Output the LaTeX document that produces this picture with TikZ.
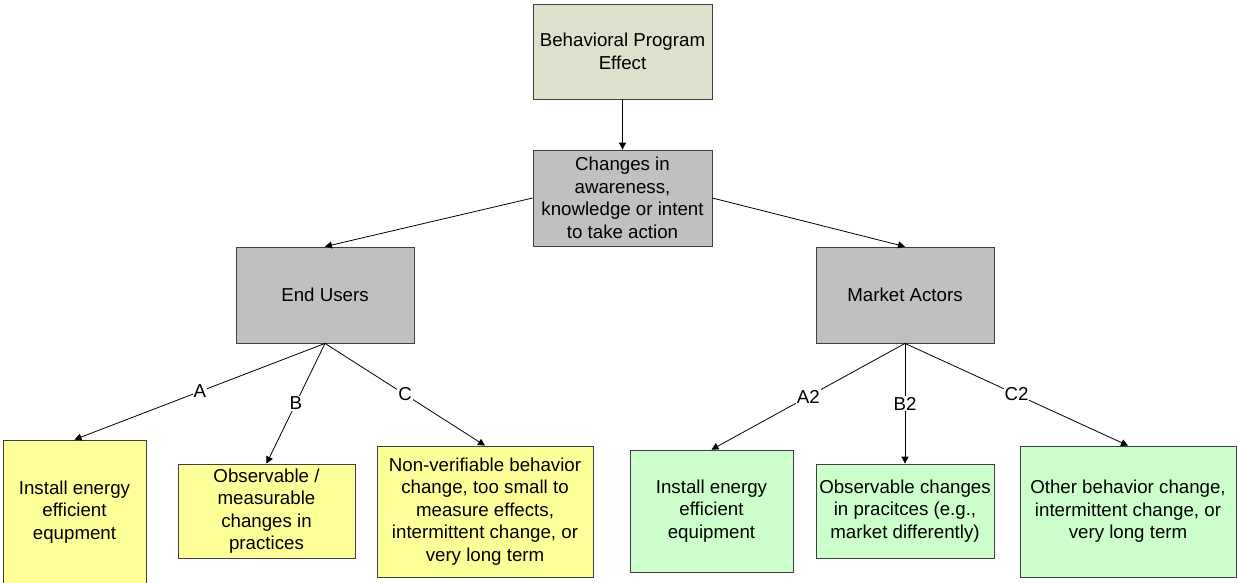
\documentclass[tikz,border=0pt]{standalone}
\usepackage{fontspec}
\setmainfont{Liberation Sans}
\usetikzlibrary{arrows.meta}
\definecolor{tanfill}{HTML}{DDE0CB}
\definecolor{grayfill}{HTML}{C0C0C0}
\definecolor{yellowfill}{HTML}{FFFF99}
\definecolor{greenfill}{HTML}{CCFFCC}
\begin{document}
\begin{tikzpicture}[x=1pt,y=-1pt,
  box/.style={draw=black!75, line width=0.8pt, inner sep=0pt, align=center,
    font=\fontsize{18.7}{22.5}\selectfont},
  tanbox/.style={box, fill=tanfill},
  graybox/.style={box, fill=grayfill},
  yellowbox/.style={box, fill=yellowfill},
  greenbox/.style={box, fill=greenfill},
  link/.style={draw=black, line width=0.8pt, -{Triangle[length=7pt,width=7pt]}},
  tag/.style={fill=white, inner sep=1pt, font=\fontsize{18.7}{22.5}\selectfont}]
\useasboundingbox (0,0) rectangle (1238,582);
\fill[white] (0,0) rectangle (1238,582);

% top of the hierarchy
\node[tanbox, minimum width=179pt, minimum height=95pt] (effect) at (622.5,51.5)
  {Behavioral Program\\Effect};
\node[graybox, minimum width=179pt, minimum height=96pt] (changes) at (622.5,198)
  {Changes in\\awareness,\\knowledge or intent\\to take action};
\node[graybox, minimum width=178pt, minimum height=96pt] (users) at (325,295) {End Users};
\node[graybox, minimum width=178pt, minimum height=96pt] (actors) at (905,295) {Market Actors};

% end-user outcomes
\node[yellowbox, minimum width=143pt, minimum height=143.5pt] (y1) at (74.5,511.75)
  {Install energy\\efficient\\equpment};
\node[yellowbox, minimum width=177pt, minimum height=94pt] (y2) at (266.5,511)
  {Observable /\\measurable\\changes in\\practices};
\node[yellowbox, minimum width=216pt, minimum height=131pt] (y3) at (485,511.5)
  {Non-verifiable behavior\\change, too small to\\measure effects,\\intermittent change, or\\very long term};

% market-actor outcomes
\node[greenbox, minimum width=163pt, minimum height=122pt] (g1) at (711.5,511)
  {Install energy\\efficient\\equipment};
\node[greenbox, minimum width=178pt, minimum height=94pt] (g2) at (905,511)
  {Observable changes\\in pracitces (e.g.,\\market differently)};
\node[greenbox, minimum width=216pt, minimum height=131pt] (g3) at (1128,511.5)
  {Other behavior change,\\intermittent change, or\\very long term};

% connectors
\draw[link] (effect) -- (changes);
\draw[link] (changes.west) -- (users.north);
\draw[link] (changes.east) -- (actors.north);
\draw[link] (users.south) -- node[tag] {A} (y1.north);
\draw[link] (users.south) -- node[tag] {B} (y2.north);
\draw[link] (users.south) -- node[tag] {C} (y3.north);
\draw[link] (actors.south) -- node[tag] {A2} (g1.north);
\draw[link] (actors.south) -- node[tag] {B2} (g2.north);
\draw[link] (actors.south) -- node[tag] {C2} (g3.north);
\end{tikzpicture}
\end{document}
